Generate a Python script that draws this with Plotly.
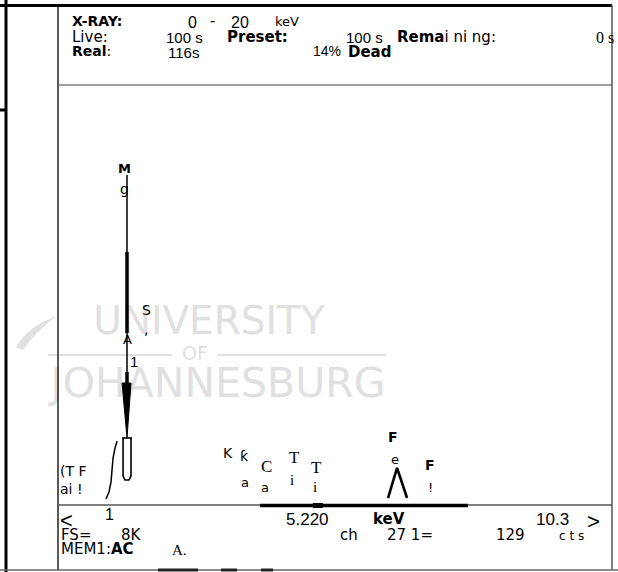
import plotly.graph_objects as go

# ---- spectrum values (energy in keV, intensity in counts) ----
flank_kev = [0.86, 0.917, 0.955, 0.974, 0.993, 1.031, 1.069]
flank_cts = [114, 248, 438, 667, 895, 1086, 1219]

mg_line_kev = [1.258, 1.258]
mg_line_cts = [2324, 6287]
mg_thick_kev = [1.258, 1.258, None, 1.258, 1.258]
mg_thick_cts = [3277, 4820, None, 2324, 2534]
mg_core_kev = [1.164, 1.334, 1.258, 1.164]
mg_core_cts = [2324, 2324, 1276, 2324]
mg_base_kev = [1.183, 1.183, 1.22, 1.296, 1.334, 1.334, None, 1.164, 1.353]
mg_base_cts = [1276, 550, 476, 476, 550, 1276, None, 1276, 1276]

fe_kev = [6.205, 6.376, 6.566]
fe_cts = [133, 705, 133]

roi_kev = [3.78, 7.72]
cursor_kev = [4.78, 4.97]

E_MIN, E_MAX = -0.05, 10.45
FULL_SCALE = 8000

W, H = 618, 572
L, R, T, B = 58, 6, 85, 67
PW, PH = W - L - R, H - T - B


def px(x, y):
    """pixel position -> paper coordinates"""
    return (x - L) / PW, ((H - B) - y) / PH


def to_data(x, y):
    """pixel position -> (keV, counts)"""
    fx, fy = px(x, y)
    return E_MIN + fx * (E_MAX - E_MIN), fy * FULL_SCALE


fig = go.Figure()

# faint background lettering, drawn first so the spectrum sits on top
wm = "#e0e0e0"
for s, x, y, sz in [("UNIVERSITY", 209, 324, 39),
                    ("OF", 195, 355, 19),
                    ("JOHANNESBURG", 218, 387, 41)]:
    ex, cy = to_data(x, y)
    fig.add_trace(go.Scatter(x=[ex], y=[cy], mode="text", text=[s],
                             textposition="middle center", cliponaxis=False,
                             textfont=dict(family="DejaVu Sans", size=sz, color=wm),
                             hoverinfo="skip"))

fig.add_trace(go.Scatter(x=flank_kev, y=flank_cts, mode="lines",
                         line=dict(color="black", width=1.5)))
fig.add_trace(go.Scatter(x=mg_line_kev, y=mg_line_cts, mode="lines",
                         line=dict(color="black", width=1.5)))
fig.add_trace(go.Scatter(x=mg_thick_kev, y=mg_thick_cts, mode="lines",
                         line=dict(color="black", width=3.5)))
fig.add_trace(go.Scatter(x=mg_core_kev, y=mg_core_cts, mode="lines",
                         fill="toself", fillcolor="black",
                         line=dict(color="black", width=1)))
fig.add_trace(go.Scatter(x=mg_base_kev, y=mg_base_cts, mode="lines",
                         line=dict(color="black", width=1.6)))
fig.add_trace(go.Scatter(x=fe_kev, y=fe_cts, mode="lines",
                         line=dict(color="black", width=2.6)))

shapes = []


def pline(x0, y0, x1, y1, width=1, color="black", layer="above"):
    a = px(x0, y0)
    b = px(x1, y1)
    shapes.append(dict(type="line", xref="paper", yref="paper", layer=layer,
                       x0=a[0], y0=a[1], x1=b[0], y1=b[1],
                       line=dict(color=color, width=width)))


# outer frame
pline(0, 5.5, 612, 5.5, 3)
pline(6, 0, 6, 572, 3)
pline(0, 110, 7, 110, 3)
pline(58, 5, 58, 570, 1.3)
pline(612, 5, 612, 570, 1.5, "#555")
pline(58, 85, 612, 85, 1, "#444")
pline(58, 505, 612, 505, 1.5, "#555")
pline(0, 570, 618, 570, 1.5, "#666")
pline(158, 570, 198, 570, 3, "#222")
pline(221, 570, 237, 570, 3, "#222")
pline(261, 570, 273, 570, 3, "#222")

# region-of-interest marker and cursor on the energy axis
yb = px(0, 505.5)[1]
shapes.append(dict(type="line", xref="x", yref="paper", x0=roi_kev[0], x1=roi_kev[1],
                   y0=yb, y1=yb, line=dict(color="black", width=3.5)))
shapes.append(dict(type="rect", xref="x", yref="paper", x0=cursor_kev[0], x1=cursor_kev[1],
                   y0=px(0, 508)[1], y1=px(0, 503)[1], fillcolor="black",
                   line=dict(width=0)))

# watermark rules and swoosh
pline(48, 355, 172, 355, 2, wm, "below")
pline(218, 355, 386, 355, 2, wm, "below")
sx = lambda x: px(x, 0)[0]
sy = lambda y: px(0, y)[1]
shapes.append(dict(type="path", xref="paper", yref="paper", layer="below",
                   path=(f"M {sx(16)},{sy(347)} Q {sx(28)},{sy(326)} {sx(57)},{sy(316)} "
                         f"Q {sx(36)},{sy(331)} {sx(23)},{sy(350)} Z"),
                   fillcolor=wm, line=dict(width=0)))

annotations = []


def txt(s, x, y, size=13, family="Liberation Sans", anchor="left", color="black"):
    a = px(x, y)
    annotations.append(dict(text=s, x=a[0], y=a[1], xref="paper", yref="paper",
                            xanchor=anchor, yanchor="middle", showarrow=False,
                            font=dict(size=size, family=family, color=color)))


# header block
txt("<b>X-RAY:</b>", 70, 21, 14, "DejaVu Sans")
txt("0", 186, 22, 16)
txt("-", 208, 20, 16)
txt("20", 229, 22, 16)
txt("keV", 273, 21, 13, "DejaVu Sans")
txt("Live:", 70, 37, 15, "DejaVu Sans")
txt("100 s", 164, 38, 15)
txt("<b>Preset:</b>", 225, 37, 15, "DejaVu Sans")
txt("100 s", 344, 38, 15)
txt("<b>Rema</b>i ni ng:", 395, 37, 15, "DejaVu Sans")
txt("0 s", 594, 38, 16, "Liberation Serif")
txt("<b>Real</b>:", 70, 51, 14, "DejaVu Sans")
txt("116s", 166, 52, 15)
txt("14%", 311, 51, 14)
txt("<b>Dead</b>", 346, 52, 15, "DejaVu Sans")

# element markers
txt("<b>M</b>", 124, 168, 13, "DejaVu Sans", "center")
txt("g", 124, 189, 14, "DejaVu Sans", "center")
txt("S", 146, 310, 14, "DejaVu Sans", "center")
txt(",", 146, 329, 14, "DejaVu Sans", "center")
txt("A", 127, 339, 13, "DejaVu Sans", "center")
txt("1", 134, 361, 15, "Liberation Sans", "center")
txt("(T F", 58, 471, 14, "DejaVu Sans")
txt("ai !", 58, 489, 14, "DejaVu Sans")
txt("K", 228, 453, 14, "DejaVu Sans", "center")
txt("ƙ", 244, 456, 14, "DejaVu Sans", "center")
txt("a", 245, 482, 13, "DejaVu Sans", "center")
txt("C", 266, 466, 17, "Liberation Serif", "center")
txt("a", 265, 487, 13, "DejaVu Sans", "center")
txt("T", 294, 457, 17, "Liberation Serif", "center")
txt("i", 292, 480, 15, "Liberation Serif", "center")
txt("T", 316, 467, 17, "Liberation Serif", "center")
txt("i", 315, 487, 15, "Liberation Serif", "center")
txt("<b>F</b>", 393, 437, 14, "DejaVu Sans", "center")
txt("e", 395, 459, 13, "DejaVu Sans", "center")
txt("<b>F</b>", 430, 465, 14, "DejaVu Sans", "center")
txt("!", 430, 487, 13, "DejaVu Sans", "center")

# footer block
txt("<", 58, 520, 22, "Liberation Sans")
txt("1", 103, 514, 16)
txt("5.220", 284, 519, 17)
txt("<b>keV</b>", 371, 519, 15, "DejaVu Sans")
txt("10.3", 534, 519, 17)
txt(">", 585, 521, 22, "Liberation Sans")
txt("FS=", 59, 535, 15, "DejaVu Sans")
txt("8K", 119, 535, 15, "DejaVu Sans")
txt("ch", 338, 535, 15, "DejaVu Sans")
txt("27 1=", 385, 535, 15, "DejaVu Sans")
txt("129", 494, 535, 15, "DejaVu Sans")
txt("c t s", 557, 536, 12, "DejaVu Sans")
txt("MEM1:<b>AC</b>", 59, 549, 15, "DejaVu Sans")
txt("A.", 170, 550, 15, "Liberation Serif")

fig.update_layout(
    width=W, height=H,
    margin=dict(l=L, r=R, t=T, b=B, pad=0),
    paper_bgcolor="white", plot_bgcolor="rgba(0,0,0,0)",
    showlegend=False,
    shapes=shapes, annotations=annotations,
    xaxis=dict(range=[E_MIN, E_MAX], visible=False, fixedrange=True),
    yaxis=dict(range=[0, FULL_SCALE], visible=False, fixedrange=True),
)

fig.write_html("out.html")
